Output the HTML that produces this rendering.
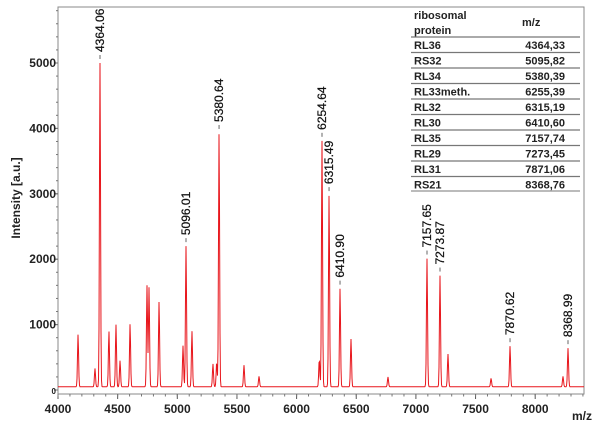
<!DOCTYPE html>
<html><head><meta charset="utf-8"><style>
body{margin:0;background:#fff;width:600px;height:433px;overflow:hidden}
svg{display:block;font-family:"Liberation Sans",sans-serif}
</style></head><body>
<svg id="chart" width="600" height="433"></svg>
<script>
const peakMz=[4352,5073,5350,6213,6272,6364,7093,7202,7789,8275];
const peakInt=[4950,2150,3880,3760,2930,1500,1960,1700,620,590];
const peakLabels=["4364.06","5096.01","5380.64","6254.64","6315.49","6410.90","7157.65","7273.87","7870.62","8368.99"];
const minorMz=[4168,4427,4486,4520,4604,4746,4763,4847,5048,5123,5299,5330,5559,5685,6456,6766,7269,7630,8233,4310,6190];
const minorInt=[800,850,950,400,960,1550,1520,1300,630,850,350,370,330,160,730,150,500,130,160,280,420];
const xTicks=[4000,4500,5000,5500,6000,6500,7000,7500,8000];
const yTicks=[0,1000,2000,3000,4000,5000];
const tableProt=["RL36","RS32","RL34","RL33meth.","RL32","RL30","RL35","RL29","RL31","RS21"];
const tableMz=["4364,33","5095,82","5380,39","6255,39","6315,19","6410,60","7157,74","7273,45","7871,06","8368,76"];

const L=58,R=584,T=7,B=394;
const X=v=>58+(v-4000)*0.1193;
const Y=v=>390-v*0.0654;
const NS="http://www.w3.org/2000/svg";
const svg=document.getElementById('chart');
function mk(tag,attrs,parent){const e=document.createElementNS(NS,tag);for(const k in attrs)e.setAttribute(k,attrs[k]);(parent||svg).appendChild(e);return e;}

const frame=mk('rect',{x:L,y:T,width:R-L,height:B-T,fill:'none',stroke:'#888','stroke-width':1});



const allMz=peakMz.concat(minorMz), allI=peakInt.concat(minorInt);
let d='';
for(let px=L;px<=R;px+=0.5){
  const v=4000+(px-58)/0.1193;
  let y=50;
  for(let i=0;i<allMz.length;i++){const dd=(v-allMz[i])/4.5;y+=allI[i]*Math.exp(-dd*dd/2);}
  d+=(px===L?'M':'L')+px.toFixed(1)+','+Y(y).toFixed(1);
}
const line=mk('path',{d:d,fill:'none',stroke:'#e8161c','stroke-width':1});



xTicks.forEach(t=>{
  const x=X(t);
  const tk=mk('line',{x1:x,x2:x,y1:B,y2:B+5,stroke:'#555'});
  
  
  const lb=mk('text',{x:x,y:413,'text-anchor':'middle','font-size':12,'font-weight':'bold',fill:'#222'});
  lb.textContent=t;
  
  
});
for(let t=4000;t<=8500;t+=100){if(X(t)<R){const m=mk('line',{x1:X(t),x2:X(t),y1:B,y2:B+2.5,stroke:'#777'});}}
yTicks.forEach(t=>{
  const y=Y(t);
  const tk=mk('line',{x1:L-4,x2:L,y1:y,y2:y,stroke:'#555'});
  
  
  const lb=mk('text',{x:L-2,y:y+4,'text-anchor':'end','font-size':t===0?8:12,'font-weight':'bold',fill:'#222'});
  lb.textContent=t;
  
  
});
for(let t=0;t<=5800;t+=200){const m=mk('line',{x1:L-2,x2:L,y1:Y(t),y2:Y(t),stroke:'#777'});}

const yt=mk('text',{x:0,y:0,transform:'translate(20,198) rotate(-90)','text-anchor':'middle','font-size':12,'font-weight':'bold',fill:'#222'});
yt.textContent='Intensity  [a.u.]';


const xt=mk('text',{x:592,y:420,'text-anchor':'end','font-size':12,'font-weight':'bold',fill:'#222'});
xt.textContent='m/z';



peakMz.forEach((m,i)=>{
  const x=X(m), y=Y(peakInt[i]+50);
  const dash=mk('line',{x1:x,x2:x,y1:y-8,y2:y-4,stroke:'#666'});
  
  
  const t=mk('text',{x:0,y:0,transform:`translate(${x+4},${y-11}) rotate(-90)`,'font-size':12,fill:'#111','stroke':'#111','stroke-width':0.25});
  t.textContent=peakLabels[i];
  
  
});

const tb=mk('g',{});


const h1=mk('text',{x:414,y:19,'font-size':11,'font-weight':'bold',fill:'#222'},tb);h1.textContent='ribosomal';


const h2=mk('text',{x:414,y:34,'font-size':11,'font-weight':'bold',fill:'#222'},tb);h2.textContent='protein';


const h3=mk('text',{x:522,y:26,'font-size':11,'font-weight':'bold',fill:'#222'},tb);h3.textContent='m/z';


tableProt.forEach((p,i)=>{
  const yl=37+i*15.5;
  const ln=mk('line',{x1:411,x2:580,y1:yl,y2:yl,stroke:'#777','stroke-width':1.2},tb);
  
  
  const a=mk('text',{x:414,y:yl+12,'font-size':11,'font-weight':'bold',fill:'#222'},tb);a.textContent=p;
  
  
  const b=mk('text',{x:565,y:yl+12,'text-anchor':'end','font-size':11,'font-weight':'bold',fill:'#222'},tb);b.textContent=tableMz[i];
  
  
});
const last=mk('line',{x1:411,x2:580,y1:37+10*15.5-1,y2:37+10*15.5-1,stroke:'#777','stroke-width':1},tb);


</script>
</body></html>
